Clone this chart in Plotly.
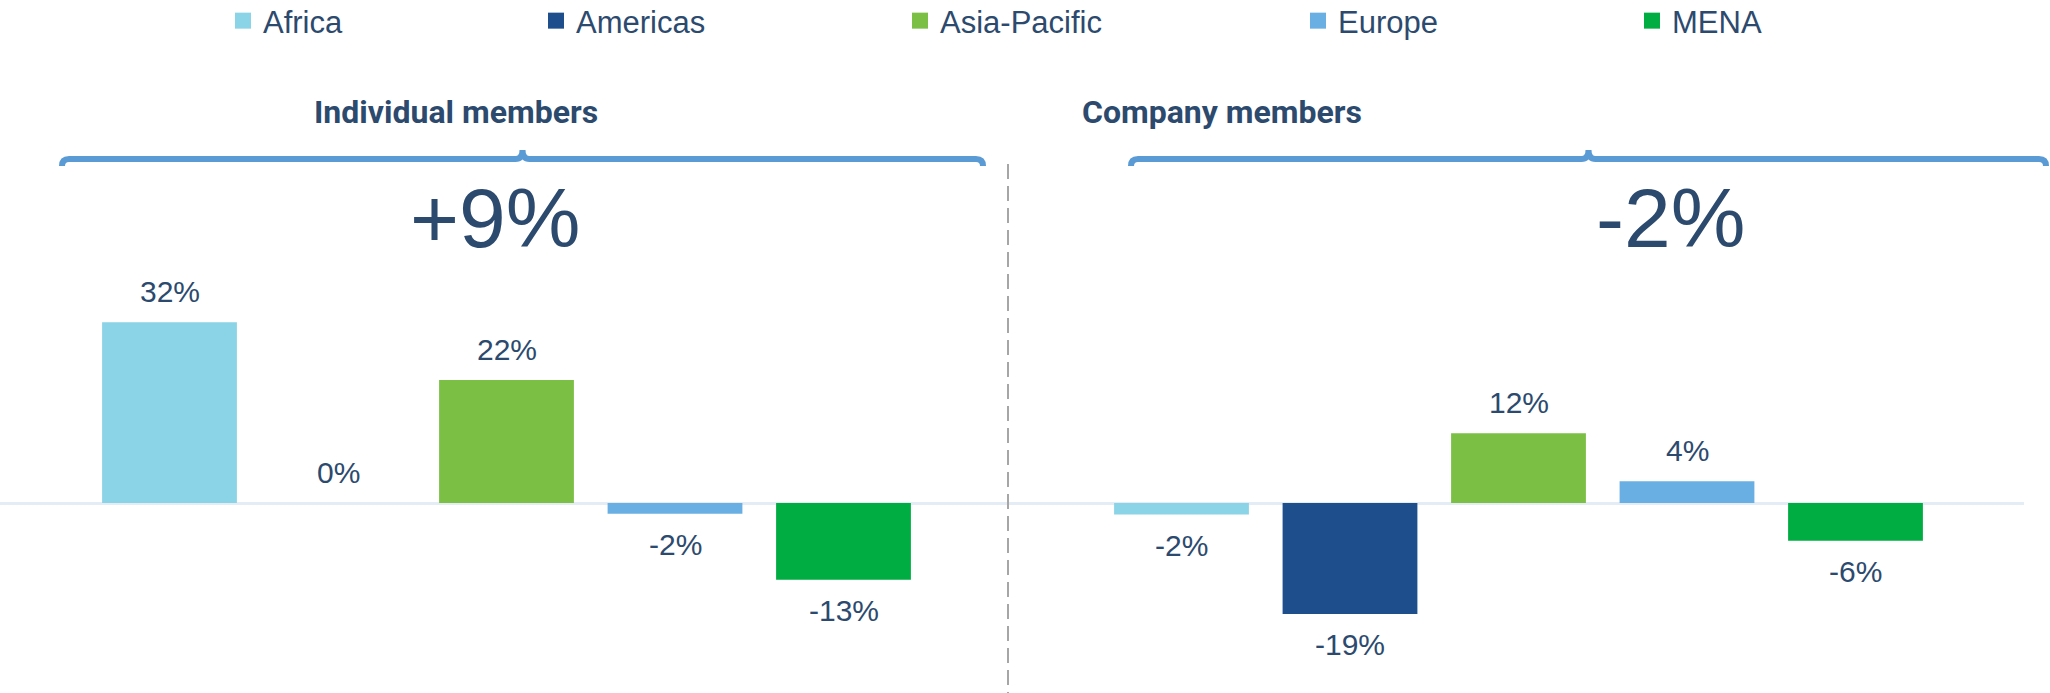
import plotly.graph_objects as go

# ---------------- data ----------------
regions = ["Africa", "Americas", "Asia-Pacific", "Europe", "MENA"]
colors = ["#8BD3E6", "#1F4E8D", "#7BBF44", "#69AFE3", "#00AD42"]
individual_values = [31.6, 0.0, 21.5, -1.9, -13.4]
individual_labels = ["32%", "0%", "22%", "-2%", "-13%"]
company_values = [-2.0, -19.4, 12.2, 3.8, -6.6]
company_labels = ["-2%", "-19%", "12%", "4%", "-6%"]
panel_titles = ["Individual members", "Company members"]
panel_totals = ["+9%", "-2%"]

# ---------------- layout geometry (pixels) ----------------
W, H = 2050, 693
TEXT = "#2C4A6E"
BRACKET = "#5B9BD5"
FONT = "Arial, Liberation Sans, sans-serif"

zero_px = 503.0
px_per_unit = 5.72
y_range = [-(H - zero_px) / px_per_unit, zero_px / px_per_unit]

step = 168.5
div_px = 1008.0
right_end = 2024.0
left_first = 169.5
right_first = 1181.5

def px_x(p):
    return p / W

def px_y(p):
    return 1 - p / H

fig = go.Figure()

for i, (reg, col) in enumerate(zip(regions, colors)):
    fig.add_trace(go.Bar(x=[reg], y=[individual_values[i]], marker=dict(color=col, line=dict(width=0)),
                         width=0.8, showlegend=False, xaxis="x", yaxis="y", hoverinfo="skip"))
    fig.add_trace(go.Bar(x=[reg], y=[company_values[i]], marker=dict(color=col, line=dict(width=0)),
                         width=0.8, showlegend=False, xaxis="x2", yaxis="y2", hoverinfo="skip"))

# legend proxies, one legend per entry to reproduce spacing
legend_marker_left = [239, 552, 916, 1314, 1648]
for i, (reg, col) in enumerate(zip(regions, colors)):
    lname = "legend" if i == 0 else f"legend{i+1}"
    fig.add_trace(go.Scatter(x=[None], y=[None], mode="markers", name=reg,
                             marker=dict(symbol="square", size=17, color=col, line=dict(width=0)),
                             legend=lname, showlegend=True, xaxis="x", yaxis="y"))

legend_common = dict(orientation="h", yanchor="middle", xanchor="left",
                     font=dict(family=FONT, size=31, color=TEXT),
                     bgcolor="rgba(0,0,0,0)", borderwidth=0, itemclick=False, itemdoubleclick=False)
layout_legends = {}
for i, left in enumerate(legend_marker_left):
    lname = "legend" if i == 0 else f"legend{i+1}"
    layout_legends[lname] = dict(x=px_x(left - 16), y=px_y(21), **legend_common)

annotations = []
for i, reg in enumerate(regions):
    v = individual_values[i]
    annotations.append(dict(x=reg, y=v, xref="x", yref="y", text=individual_labels[i], showarrow=False,
                            yanchor="middle", yshift=31 if v >= 0 else -31,
                            font=dict(family=FONT, size=30, color=TEXT)))
    v = company_values[i]
    annotations.append(dict(x=reg, y=v, xref="x2", yref="y2", text=company_labels[i], showarrow=False,
                            yanchor="middle", yshift=31 if v >= 0 else -31,
                            font=dict(family=FONT, size=30, color=TEXT)))

# panel titles and totals
title_cx = [456, 1222]
total_cx = [495, 1670]
for t, cx in zip(panel_titles, title_cx):
    annotations.append(dict(x=px_x(cx), y=px_y(112), xref="paper", yref="paper", text=f"<b>{t}</b>",
                            showarrow=False, xanchor="center", yanchor="middle",
                            font=dict(family="Roboto, Arial, sans-serif", size=32, color=TEXT)))
for t, cx in zip(panel_totals, total_cx):
    annotations.append(dict(x=px_x(cx), y=px_y(218), xref="paper", yref="paper", text=t,
                            showarrow=False, xanchor="center", yanchor="middle",
                            font=dict(family=FONT, size=84, color=TEXT)))

def bracket_path(x0, x1, yl=159, ye=166, ytip=150, r=7):
    xc = (x0 + x1) / 2
    pts = [
        f"M{px_x(x0)},{px_y(ye)}",
        f"Q{px_x(x0)},{px_y(yl)} {px_x(x0 + r)},{px_y(yl)}",
        f"L{px_x(xc - r)},{px_y(yl)}",
        f"Q{px_x(xc)},{px_y(yl)} {px_x(xc)},{px_y(ytip)}",
        f"Q{px_x(xc)},{px_y(yl)} {px_x(xc + r)},{px_y(yl)}",
        f"L{px_x(x1 - r)},{px_y(yl)}",
        f"Q{px_x(x1)},{px_y(yl)} {px_x(x1)},{px_y(ye)}",
    ]
    return " ".join(pts)

shapes = [
    dict(type="path", xref="paper", yref="paper", path=bracket_path(62, 983),
         line=dict(color=BRACKET, width=6), fillcolor="rgba(0,0,0,0)"),
    dict(type="path", xref="paper", yref="paper", path=bracket_path(1131, 2046),
         line=dict(color=BRACKET, width=6), fillcolor="rgba(0,0,0,0)"),
    dict(type="line", xref="paper", yref="paper", x0=px_x(div_px), x1=px_x(div_px),
         y0=px_y(164), y1=px_y(H), line=dict(color="#A6A6A6", width=2, dash="15px,7px")),
]

axis_common = dict(showgrid=False, showticklabels=False, ticks="", showline=False, zeroline=False,
                   type="category", categoryorder="array", categoryarray=regions, fixedrange=True)
yaxis_common = dict(showgrid=False, showticklabels=False, ticks="", showline=False,
                    zeroline=True, zerolinecolor="#E4ECF6", zerolinewidth=3, range=y_range, fixedrange=True)

fig.update_layout(
    width=W, height=H,
    margin=dict(l=0, r=0, t=0, b=0, pad=0, autoexpand=False),
    paper_bgcolor="white", plot_bgcolor="white",
    barmode="group",
    xaxis=dict(domain=[0, px_x(div_px)],
               range=[(0 - left_first) / step, (div_px - left_first) / step], **axis_common),
    xaxis2=dict(domain=[px_x(div_px), px_x(right_end)],
                range=[(div_px - right_first) / step, (right_end - right_first) / step], **axis_common),
    yaxis=dict(domain=[0, 1], anchor="x", **yaxis_common),
    yaxis2=dict(domain=[0, 1], anchor="x2", **yaxis_common),
    annotations=annotations,
    shapes=shapes,
    **layout_legends,
)

fig.write_html("out.html", config={"displayModeBar": False},
               post_script="document.body.style.margin='0';document.body.style.overflow='hidden';")
